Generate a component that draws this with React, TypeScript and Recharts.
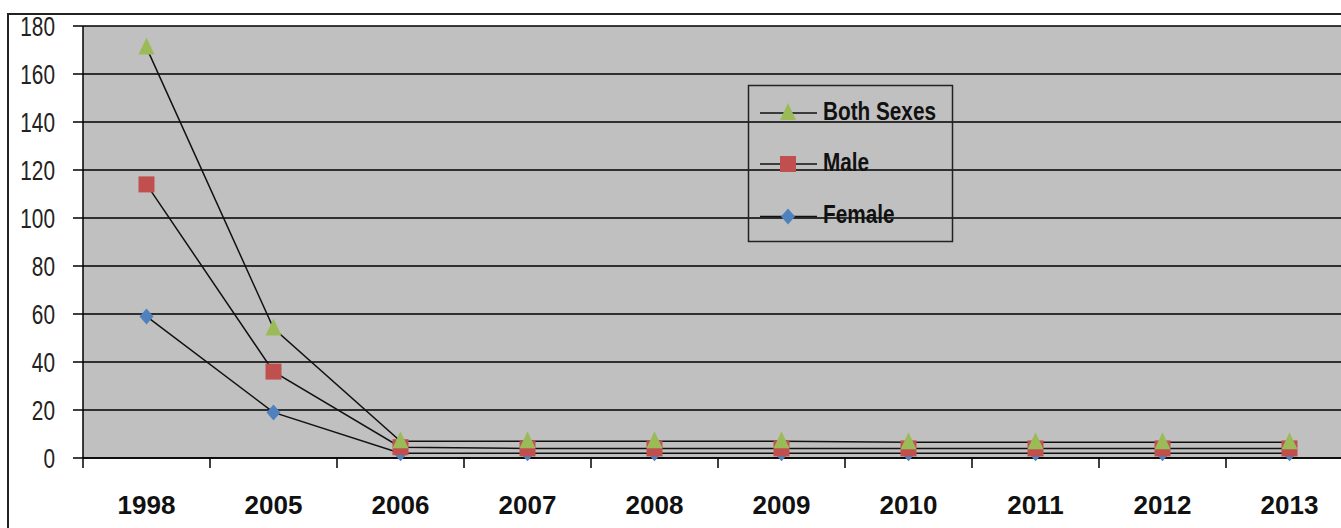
import React from 'react';
import { LineChart, Line, XAxis, YAxis, CartesianGrid } from 'recharts';

const years = ['1998', '2005', '2006', '2007', '2008', '2009', '2010', '2011', '2012', '2013'];
const bothSexes = [171, 54, 7, 7, 7, 7, 6.6, 6.6, 6.6, 6.6];
const male = [114, 36, 4.5, 4, 4, 4, 4, 4, 4, 4];
const female = [59, 19, 2, 2, 2, 2, 2, 2, 2, 2];
const yTicks = [0, 20, 40, 60, 80, 100, 120, 140, 160, 180];
const seriesNames = ['Both Sexes', 'Male', 'Female'];
const seriesColors = ['#9BBB59', '#C0504D', '#4F81BD'];

const data = years.map((year, i) => ({
  pos: i + 0.5,
  year,
  both: bothSexes[i],
  male: male[i],
  female: female[i],
}));

const xTicks: number[] = [];
for (let i = 0; i <= years.length; i++) {
  xTicks.push(i);
  if (i < years.length) xTicks.push(i + 0.5);
}

const FONT = '"Liberation Sans", Arial, sans-serif';

const Triangle = (cx: number, cy: number, color: string, key?: string) => (
  <polygon key={key} points={`${cx},${cy - 10} ${cx + 8},${cy + 7} ${cx - 8},${cy + 7}`} fill={color} />
);
const Square = (cx: number, cy: number, color: string, key?: string) => (
  <rect key={key} x={cx - 8} y={cy - 8} width={16} height={16} fill={color} />
);
const Diamond = (cx: number, cy: number, color: string, key?: string) => (
  <polygon key={key} points={`${cx},${cy - 8} ${cx + 7},${cy} ${cx},${cy + 8} ${cx - 7},${cy}`} fill={color} />
);
const shapes = [Triangle, Square, Diamond];

const makeDot = (idx: number) => (props: any) => {
  const { cx, cy, index } = props;
  if (cx == null || cy == null) return <g key={`d${idx}-${index}`} />;
  return shapes[idx](cx, cy, seriesColors[idx], `d${idx}-${index}`);
};

const XTick = (props: any) => {
  const { x, y, payload } = props;
  const v = payload.value as number;
  if (Number.isInteger(v)) {
    return <line x1={x} x2={x} y1={y} y2={y + 10} stroke="#000" strokeWidth={1.5} />;
  }
  const label = years[Math.floor(v)];
  return (
    <text x={x} y={y + 47} textAnchor="middle" dominantBaseline="central" fontFamily={FONT} fontWeight="bold" fontSize={26} fill="#111">
      {label}
    </text>
  );
};

const YTick = (props: any) => {
  const { x, y, payload } = props;
  return (
    <g transform={`translate(${x},${y}) scale(0.8,1.05)`}>
      <text x={0} y={0} textAnchor="end" dominantBaseline="central" fontFamily={FONT} fontSize={26} fill="#222">
        {payload.value}
      </text>
    </g>
  );
};

const LegendBox = () => {
  const rows = [113, 164, 216.5];
  return (
    <svg width={220} height={170} style={{ position: 'absolute', left: 740, top: 78 }}>
      <rect x={8.5} y={7.5} width={204} height={156} fill="none" stroke="#222" strokeWidth={1.5} />
      {seriesNames.map((name, i) => {
        const cy = rows[i] - 78;
        return (
          <g key={name}>
            <line x1={20} x2={77} y1={cy} y2={cy} stroke="#111" strokeWidth={1.5} />
            {shapes[i](48, cy, seriesColors[i])}
            <g transform={`translate(83,${cy - 2}) scale(0.83,1)`}>
              <text x={0} y={0} dominantBaseline="central" fontFamily={FONT} fontWeight="bold" fontSize={25} fill="#111">
                {name}
              </text>
            </g>
          </g>
        );
      })}
    </svg>
  );
};

export default function App() {
  return (
    <div style={{ position: 'absolute', left: 0, top: 0, width: 1341, height: 528, overflow: 'hidden', background: '#fff' }}>
      <div
        style={{
          position: 'absolute',
          left: 7,
          top: 13,
          width: 2000,
          height: 1000,
          border: '2px solid #222',
          boxSizing: 'border-box',
        }}
      />
      <div style={{ position: 'absolute', left: 0, top: 0 }}>
        <LineChart width={1353} height={528} data={data} margin={{ top: 26, right: 0, bottom: 0, left: 0 }}>
          <CartesianGrid vertical={false} stroke="#000" strokeWidth={1.5} fill="#c0c0c0" />
          <XAxis
            type="number"
            dataKey="pos"
            domain={[0, years.length]}
            ticks={xTicks}
            interval={0}
            tickSize={0}
            tickMargin={0}
            tickLine={false}
            axisLine={{ stroke: '#000', strokeWidth: 1.5 }}
            height={70}
            allowDecimals
            tick={(p: any) => <XTick {...p} />}
          />
          <YAxis
            type="number"
            domain={[0, 180]}
            ticks={yTicks}
            interval={0}
            width={83}
            tickSize={10}
            tickMargin={18}
            tickLine={{ stroke: '#000', strokeWidth: 1.5 }}
            axisLine={{ stroke: '#000', strokeWidth: 1.5 }}
            tick={(p: any) => <YTick {...p} />}
          />
          <Line type="linear" dataKey="female" name={seriesNames[2]} stroke="#111" strokeWidth={1.5} dot={makeDot(2)} activeDot={false} isAnimationActive={false} />
          <Line type="linear" dataKey="male" name={seriesNames[1]} stroke="#111" strokeWidth={1.5} dot={makeDot(1)} activeDot={false} isAnimationActive={false} />
          <Line type="linear" dataKey="both" name={seriesNames[0]} stroke="#111" strokeWidth={1.5} dot={makeDot(0)} activeDot={false} isAnimationActive={false} />
        </LineChart>
      </div>
      <LegendBox />
    </div>
  );
}
